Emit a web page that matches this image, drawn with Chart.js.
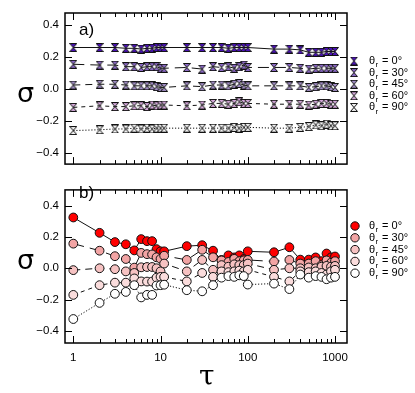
<!DOCTYPE html>
<html><head><meta charset="utf-8">
<script src="https://cdn.jsdelivr.net/npm/chart.js@4.4.1/dist/chart.umd.min.js"></script>
<style>
html,body{margin:0;padding:0;background:#fff;}
#wrap{position:relative;width:415px;height:393px;overflow:hidden;font-family:"Liberation Sans",Arial,sans-serif;}
canvas{position:absolute;left:0;}
.lbl{position:absolute;color:#000;white-space:nowrap;line-height:1;}
</style></head>
<body><div id="wrap">
<canvas id="c1" width="415" height="177" style="top:0"></canvas>
<canvas id="c2" width="415" height="216" style="top:177px"></canvas>
<div class="lbl" style="left:79px;top:21px;font-size:17px;">a)</div>
<div class="lbl" style="left:79px;top:184px;font-size:17px;">b)</div>
<div class="lbl" style="left:17px;top:79px;font-size:27px;font-family:'DejaVu Sans',sans-serif;">σ</div>
<div class="lbl" style="left:17px;top:246px;font-size:27px;font-family:'DejaVu Sans',sans-serif;">σ</div>
<div class="lbl" style="left:199px;top:362px;font-size:28px;font-family:'DejaVu Serif',serif;">τ</div>
</div>
<script>
// ---- data ----
const tau = [1,2,3,4,5,6,7,8,9,10,11,20,30,40,50,60,70,80,90,100,200,300,400,500,600,700,800,900,1000];
const labels = ['θr = 0°','θr = 30°','θr = 45°','θr = 60°','θr = 90°'];
// panel a)
const a0  = [0.26,0.26,0.26,0.255,0.255,0.25,0.255,0.255,0.26,0.26,0.26,0.26,0.26,0.26,0.26,0.255,0.26,0.26,0.26,0.26,0.25,0.25,0.245,0.23,0.23,0.23,0.235,0.235,0.235];
const a30 = [0.155,0.15,0.15,0.14,0.14,0.135,0.14,0.14,0.14,0.13,0.13,0.135,0.125,0.14,0.135,0.14,0.13,0.14,0.15,0.135,0.135,0.135,0.13,0.125,0.13,0.13,0.13,0.13,0.13];
const a45 = [0.025,0.03,0.03,0.025,0.02,0.02,0.02,0.02,0.015,0.01,0.01,0.02,0.015,0.025,0.025,0.02,0.03,0.035,0.025,0.02,0.02,0.02,0.02,0.01,0.015,0.02,0.02,0.015,0.01];
const a60 = [-0.115,-0.105,-0.11,-0.11,-0.105,-0.105,-0.11,-0.1,-0.105,-0.1,-0.1,-0.105,-0.1,-0.09,-0.09,-0.095,-0.09,-0.08,-0.09,-0.09,-0.095,-0.095,-0.095,-0.1,-0.095,-0.09,-0.09,-0.095,-0.095];
const a90 = [-0.26,-0.255,-0.25,-0.25,-0.245,-0.25,-0.245,-0.25,-0.245,-0.245,-0.245,-0.245,-0.245,-0.245,-0.245,-0.245,-0.24,-0.245,-0.24,-0.24,-0.245,-0.245,-0.24,-0.235,-0.225,-0.23,-0.22,-0.23,-0.23];
// panel b)
const b0  = [0.324,0.226,0.167,0.153,0.114,0.186,0.173,0.173,0.122,0.108,0.108,0.141,0.147,0.112,0.053,0.082,0.069,0.082,0.059,0.108,0.102,0.134,0.055,0.055,0.069,0.045,0.094,0.069,0.075];
const b30 = [0.157,0.112,0.077,0.059,0.004,0.098,0.09,0.088,0.07,0.06,0.08,0.053,0.118,0.07,0.05,0.04,0.06,0.045,0.05,0.053,0.043,0.053,0.03,0.03,0.045,0.02,0.05,0.035,0.045];
const b45 = [-0.012,0.0,-0.006,-0.02,-0.03,0.006,0.008,0.008,0.0,-0.02,0.03,-0.02,0.053,-0.01,0.02,0.01,0.025,0.02,0.02,0.03,-0.01,0.0,0.0,0.005,0.0,0.01,0.015,0.01,0.015];
const b60 = [-0.17,-0.108,-0.092,-0.092,-0.065,-0.084,-0.085,-0.085,-0.06,-0.055,-0.055,-0.084,-0.03,-0.055,-0.02,-0.025,-0.02,-0.015,-0.02,-0.01,-0.055,-0.084,-0.02,-0.025,-0.02,-0.03,-0.04,-0.02,-0.01];
const b90 = [-0.324,-0.221,-0.163,-0.151,-0.108,-0.186,-0.17,-0.17,-0.11,-0.108,-0.105,-0.14,-0.147,-0.108,-0.06,-0.05,-0.055,-0.045,-0.05,-0.104,-0.098,-0.133,-0.04,-0.06,-0.05,-0.055,-0.07,-0.06,-0.055];
const yTicks = [-0.4,-0.2,0.0,0.2,0.4];
const xTicks = [1,10,100,1000];
const xTickLabels = ['1','10','100','1000'];

// ---- styles ----
const purple = ['#4b12b8','#8a68c4','#a08cc4','#d2a6d8','#f2f2f2'];
const reds   = ['#ff0000','#f2a4a4','#f6c2c2','#fadcdc','#ffffff'];
const dashes = [[],[11,6],[7,5],[4,4],[1.2,1.8]];

function hourglass(fill){
  const c=document.createElement('canvas'); c.width=8; c.height=9;
  const g=c.getContext('2d');
  g.beginPath();
  g.moveTo(0.5,0.5); g.lineTo(7.5,0.5); g.lineTo(4,4.5); g.lineTo(7.5,8.5); g.lineTo(0.5,8.5); g.lineTo(4,4.5); g.closePath();
  g.fillStyle=fill; g.fill(); g.strokeStyle='#111'; g.lineWidth=1; g.stroke();
  return c;
}
const hg = purple.map(hourglass);

function mkData(vals){ return tau.map((t,i)=>({x:t,y:vals[i]})); }

const frame = {
  id:'frame',
  afterDraw(chart, args, opts){
    const {ctx, chartArea:a} = chart;
    const xs=chart.scales.x, ys=chart.scales.y;
    ctx.save();
    ctx.strokeStyle='#000'; ctx.lineWidth=1.5;
    ctx.strokeRect(a.left, a.top, a.right-a.left, a.bottom-a.top);
    ctx.lineWidth=1;
    ctx.beginPath();
    for(let d=0; d<=3; d++){
      for(let m=1; m<=9; m++){
        const v=Math.pow(10,d)*m; if(v<xs.min||v>xs.max) continue;
        const px=Math.round(xs.getPixelForValue(v))+0.5; const L=(m===1)?7:4;
        ctx.moveTo(px,a.bottom); ctx.lineTo(px,a.bottom-L);
        ctx.moveTo(px,a.top); ctx.lineTo(px,a.top+L);
      }
    }
    yTicks.forEach(v=>{
      const py=Math.round(ys.getPixelForValue(v))+0.5;
      ctx.moveTo(a.left,py); ctx.lineTo(a.left+7,py);
      ctx.moveTo(a.right,py); ctx.lineTo(a.right-7,py);
    });
    ctx.stroke();
    // legend
    const L=opts.legend;
    for(let i=0;i<labels.length;i++){
      const y=L.y0+i*L.dy;
      if(L.type==='hg'){ ctx.drawImage(hg[i], L.x-4, y-4.5); }
      else { ctx.beginPath(); ctx.arc(L.x,y,4.2,0,Math.PI*2); ctx.fillStyle=reds[i]; ctx.fill(); ctx.strokeStyle='#111'; ctx.lineWidth=1; ctx.stroke(); }
      ctx.fillStyle='#000'; ctx.textBaseline='middle'; ctx.textAlign='left';
      ctx.font='11px "Liberation Sans", Arial, sans-serif';
      ctx.fillText('θ', L.tx, y);
      ctx.font='8px "Liberation Sans", Arial, sans-serif';
      ctx.fillText('r', L.tx+6.5, y+4);
      ctx.font='11px "Liberation Sans", Arial, sans-serif';
      ctx.fillText(labels[i].replace('θr',''), L.tx+10, y);
    }
    ctx.restore();
  }
};

function makeChart(id, sets, yMin, yMax, showX, pad, legend){
  return new Chart(document.getElementById(id), {
    type:'line',
    data:{datasets:sets},
    options:{
      responsive:false, animation:false, events:[],
      layout:{padding:pad},
      plugins:{legend:{display:false}, tooltip:{enabled:false}, frame:{legend}},
      scales:{
        x:{type:'logarithmic', min:0.803, max:1373, display:showX,
           grid:{display:false, drawTicks:false}, border:{display:false},
           afterBuildTicks(s){ s.ticks = xTicks.map(v=>({value:v})); },
           afterFit(s){ if(showX) s.height=50; },
           ticks:{padding:8, color:'#000', font:{size:11.5, family:'"Liberation Sans", Arial, sans-serif'}, maxRotation:0, autoSkip:false,
                  callback:(v)=>{const k=xTicks.indexOf(v); return k>=0?xTickLabels[k]:'';}}},
        y:{min:yMin, max:yMax,
           grid:{display:false, drawTicks:false}, border:{display:false},
           afterBuildTicks(s){ s.ticks = yTicks.map(v=>({value:v})); },
           afterFit(s){ s.width=65; },
           ticks:{padding:6, color:'#000', font:{size:11.5, family:'"Liberation Sans", Arial, sans-serif'},
                  callback:(v)=>v.toFixed(1).replace('-','\u2212').replace('\u22120.0','0.0')}}
      }
    },
    plugins:[frame]
  });
}

const topSets=[a0,a30,a45,a60,a90].map((v,i)=>({
  data:mkData(v), borderColor:'#111', borderWidth:1, borderDash:dashes[i],
  pointStyle:hg[i], pointRadius:4, tension:0
}));
const botSets=[b0,b30,b45,b60,b90].map((v,i)=>({
  data:mkData(v), borderColor:'#111', borderWidth:1, borderDash:dashes[i],
  pointStyle:'circle', pointRadius:4.4, pointBorderWidth:1, pointBorderColor:'#111', pointBackgroundColor:reds[i], tension:0
})).reverse();
topSets.reverse();

makeChart('c1', topSets, -0.47, 0.476, false, {left:0,right:68,top:13,bottom:2}, {type:'hg', x:354, tx:369, y0:61, dy:11.6});
makeChart('c2', botSets, -0.477, 0.50, true, {left:0,right:68,top:1,bottom:0}, {type:'c', x:355, tx:369, y0:49, dy:11.8});
</script></body></html>
